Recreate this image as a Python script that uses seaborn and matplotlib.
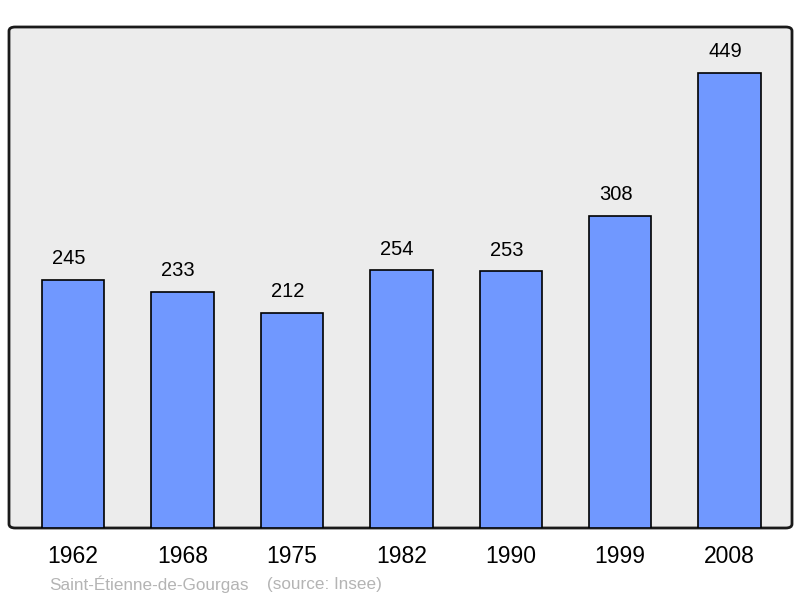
import pandas as pd
import seaborn as sns
import matplotlib.pyplot as plt
from matplotlib.patches import FancyBboxPatch

years = ['1962', '1968', '1975', '1982', '1990', '1999', '2008']
population = [245, 233, 212, 254, 253, 308, 449]

df = pd.DataFrame({'year': years, 'pop': population})

sns.set_style('white')
plt.rcParams['font.family'] = ['Liberation Sans', 'DejaVu Sans']

fig = plt.figure(figsize=(8, 5.98), dpi=100)
ax = fig.add_axes([9 / 800, 1 - 528 / 598, 783 / 800, 501 / 598])

sns.barplot(data=df, x='year', y='pop', color='#7098ff', width=0.57,
            edgecolor='black', linewidth=1.2, saturation=1, ax=ax)

ax.set_xlim(-0.585, 6.57)
ax.set_ylim(0, 494)
ax.set_facecolor('none')
for s in ax.spines.values():
    s.set_visible(False)

# rounded frame behind the bars
frame = FancyBboxPatch((0, 0), 1, 1, boxstyle='round,pad=0,rounding_size=0.008',
                       transform=ax.transAxes, facecolor='#ececec',
                       edgecolor='#1a1a1a', linewidth=2, zorder=0, clip_on=False)
ax.add_patch(frame)

for i, v in enumerate(population):
    ax.text(i - 0.04, v + 21, str(v), ha='center', va='center',
            fontsize=14.5, color='black')

ax.set_xlabel('')
ax.set_ylabel('')
ax.set_yticks([])
ax.tick_params(axis='x', length=0, pad=12, labelsize=16.5, labelcolor='black')

fig.text(49 / 800, 1 - 584 / 598, 'Saint-Étienne-de-Gourgas', color='#b4b4b4',
         fontsize=12.3, va='center', ha='left')
fig.text(267 / 800, 1 - 584 / 598, '(source: Insee)', color='#b4b4b4',
         fontsize=12.3, va='center', ha='left')

fig.savefig('out.png', dpi=100)
